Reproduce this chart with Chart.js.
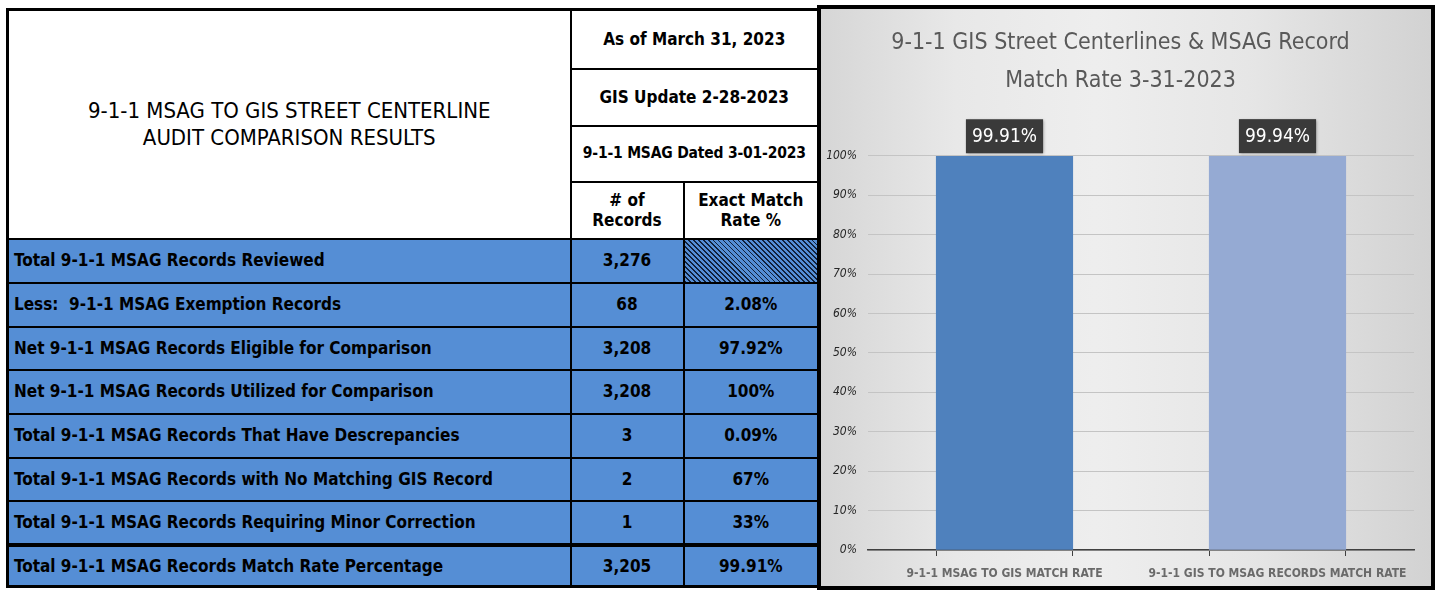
<!DOCTYPE html>
<html><head><meta charset="utf-8">
<script src="https://cdn.jsdelivr.net/npm/chart.js@4.4.0/dist/chart.umd.min.js"></script>
<style>
html,body{margin:0;padding:0;background:#fff;}
body{width:1438px;height:591px;position:relative;overflow:hidden;font-family:'DejaVu Sans Condensed','DejaVu Sans',sans-serif;}
#tbl{position:absolute;left:6px;top:8px;width:811px;border-collapse:collapse;table-layout:fixed;border:3px solid #000;}
#tbl td{border:2px solid #000;padding:0;text-align:center;font-weight:bold;font-size:17px;color:#000;line-height:1.2;overflow:hidden;white-space:nowrap;box-sizing:border-box;}
#tbl td.title{font-weight:normal;font-size:22px;line-height:1.25;background:#fff;}
#tbl td.head{background:#fff;}
#tbl td.small{font-size:15.5px;letter-spacing:-0.2px;}
#tbl tr.data td{background:#558ed5;}
#tbl tr.data td.lbl{text-align:left;padding-left:5px;}
#tbl tr.last td{border-top:4px solid #000;}
#tbl td.hatch{background:repeating-linear-gradient(45deg,#10203a 0px,#10203a 1.2px,#558ed5 1.2px,#558ed5 3.5px) !important;}
#panel{position:absolute;left:817px;top:5px;width:618px;height:585px;box-sizing:border-box;border:4px solid #000;
 background:linear-gradient(to right,#d6d6d6 0%,#e8e8e8 22%,#eeeeee 45%,#e6e6e6 70%,#d2d2d2 100%);z-index:2;}
#panel canvas{display:block;}
</style></head>
<body>
<table id="tbl"></table>
<div id="panel"><canvas id="c" width="610" height="577"></canvas></div>
<script>
// ---- Table data ----
const tableTitle = ["9-1-1 MSAG TO GIS STREET CENTERLINE", "AUDIT COMPARISON RESULTS"];
const headerLines = ["As of March 31, 2023", "GIS Update 2-28-2023", "9-1-1 MSAG Dated 3-01-2023"];
const columnHeads = [["# of", "Records"], ["Exact Match", "Rate %"]];
const rowLabels = [
  "Total 9-1-1 MSAG Records Reviewed",
  "Less:&nbsp; 9-1-1 MSAG Exemption Records",
  "Net 9-1-1 MSAG Records Eligible for Comparison",
  "Net 9-1-1 MSAG Records Utilized for Comparison",
  "Total 9-1-1 MSAG Records That Have Descrepancies",
  "Total 9-1-1 MSAG Records with No Matching GIS Record",
  "Total 9-1-1 MSAG Records Requiring Minor Correction",
  "Total 9-1-1 MSAG Records Match Rate Percentage"
];
const recordCounts = ["3,276", "68", "3,208", "3,208", "3", "2", "1", "3,205"];
const matchRates = [null, "2.08%", "97.92%", "100%", "0.09%", "67%", "33%", "99.91%"];

// ---- Chart data ----
const chartTitle = ["9-1-1 GIS Street Centerlines & MSAG Record", "Match Rate 3-31-2023"];
const categories = ["9-1-1 MSAG TO GIS MATCH RATE", "9-1-1 GIS TO MSAG RECORDS MATCH RATE"];
const matchRateValues = [99.91, 99.94];
const barColors = ["#4f81bd", "#95aad3"];

// build table
const colW = [563, 113, 135];
const headH = [59, 57, 56, 57];
const rowH = [44, 44, 43, 44, 44, 43, 44, 42];
const tbl = document.getElementById('tbl');
let html = '<colgroup>' + colW.map(w => `<col style="width:${w}px">`).join('') + '</colgroup>';
html += `<tr style="height:${headH[0]}px"><td class="title" rowspan="4">${tableTitle.join('<br>')}</td><td class="head" colspan="2">${headerLines[0]}</td></tr>`;
html += `<tr style="height:${headH[1]}px"><td class="head" colspan="2">${headerLines[1]}</td></tr>`;
html += `<tr style="height:${headH[2]}px"><td class="head small" colspan="2">${headerLines[2]}</td></tr>`;
html += `<tr style="height:${headH[3]}px"><td class="head">${columnHeads[0].join('<br>')}</td><td class="head">${columnHeads[1].join('<br>')}</td></tr>`;
rowLabels.forEach((lab, i) => {
  const cls = 'data' + (i === rowLabels.length - 1 ? ' last' : '');
  const rate = matchRates[i] === null ? '<td class="hatch"></td>' : `<td>${matchRates[i]}</td>`;
  html += `<tr class="${cls}" style="height:${rowH[i]}px"><td class="lbl">${lab}</td><td>${recordCounts[i]}</td>${rate}</tr>`;
});
tbl.innerHTML = html;

// chart
const FONT = "'DejaVu Sans Condensed','DejaVu Sans',sans-serif";
const valueBoxes = {
  id: 'valueBoxes',
  afterDatasetsDraw(chart) {
    const ctx = chart.ctx;
    const meta = chart.getDatasetMeta(0);
    meta.data.forEach((bar, i) => {
      const txt = matchRateValues[i].toFixed(2) + '%';
      ctx.save();
      ctx.font = '19px ' + FONT;
      const w = ctx.measureText(txt).width + 12;
      const h = 34;
      const x = bar.x - w / 2, y = bar.y - 3 - h;
      ctx.shadowColor = 'rgba(0,0,0,0.35)'; ctx.shadowBlur = 3; ctx.shadowOffsetX = 1; ctx.shadowOffsetY = 1;
      ctx.fillStyle = '#3a3a3a';
      ctx.fillRect(x, y, w, h);
      ctx.shadowColor = 'transparent';
      ctx.fillStyle = '#ffffff'; ctx.textAlign = 'center'; ctx.textBaseline = 'middle';
      ctx.fillText(txt, bar.x, y + h / 2 + 1);
      ctx.restore();
    });
  }
};

new Chart(document.getElementById('c'), {
  type: 'bar',
  data: {
    datasets: [{
      data: matchRateValues.map((v, i) => ({ x: i, y: v })),
      backgroundColor: barColors,
      borderWidth: 0,
      categoryPercentage: 1.0,
      barPercentage: 1.0
    }]
  },
  plugins: [valueBoxes],
  options: {
    responsive: false,
    animation: false,
    layout: { padding: { left: 6, right: 17, top: 0, bottom: 0 } },
    plugins: {
      legend: { display: false },
      tooltip: { enabled: false },
      title: {
        display: true,
        text: chartTitle,
        color: '#595959',
        font: { family: FONT, size: 23, weight: 'normal', lineHeight: 1.65 },
        padding: { top: 15, bottom: 56 }
      }
    },
    scales: {
      x: {
        type: 'linear',
        min: -0.5, max: 1.5,
        offset: false,
        afterFit: s => { s.height = 36; },
        ticks: {
          stepSize: 0.5,
          autoSkip: false,
          maxRotation: 0,
          padding: 11,
          color: '#6a6a6a',
          font: { family: FONT, size: 12, weight: 'bold' },
          callback: v => (Number.isInteger(v) && categories[v] !== undefined) ? categories[v] : ''
        },
        grid: { drawOnChartArea: false, drawTicks: true, tickLength: 6, color: '#404040', lineWidth: 1 },
        border: { display: true, color: '#404040', width: 1.5 }
      },
      y: {
        min: 0, max: 100,
        afterFit: s => { s.width = 41; },
        ticks: {
          stepSize: 10,
          padding: 11,
          color: '#262626',
          font: { family: FONT, size: 12, style: 'italic' },
          callback: v => v + '%'
        },
        grid: { color: '#c4c4c4', lineWidth: 1, drawTicks: false },
        border: { display: false }
      }
    }
  }
});
</script>
</body></html>
